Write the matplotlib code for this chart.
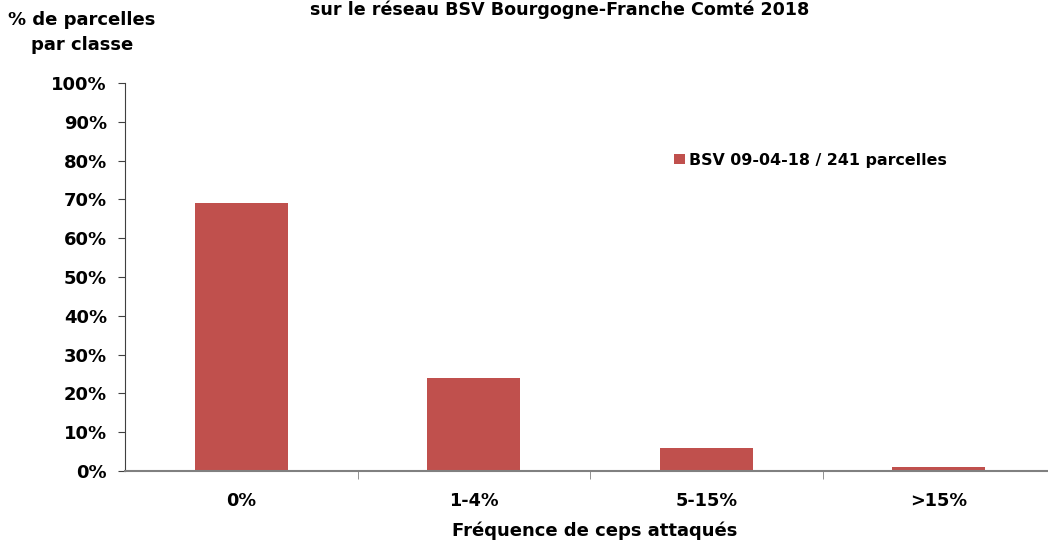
import matplotlib.pyplot as plt
import numpy as np

plt.rcParams['font.family'] = ['DejaVu Sans']
plt.rcParams['font.weight'] = 'bold'

categories = ['0%', '1-4%', '5-15%', '>15%']
values = [69, 24, 6, 1]
serie = 'BSV 09-04-18 / 241 parcelles'
yticks = [0, 10, 20, 30, 40, 50, 60, 70, 80, 90, 100]

fig = plt.figure(figsize=(10.48, 5.42), dpi=100)
ax = fig.add_axes([125/1048, 1-471/542, 930/1048, 388/542])

x = np.arange(len(categories))
ax.bar(x, values, width=0.4, color='#C0504D', label=serie, zorder=2)

ax.set_xlim(-0.5, len(categories) - 0.5)
ax.set_ylim(0, 100)
ax.set_yticks(yticks)
ax.set_yticklabels([f'{v}%' for v in yticks], fontsize=13, fontweight='bold')
ax.set_xticks(x)
ax.set_xticklabels(categories, fontsize=12.7, fontweight='bold')
ax.tick_params(axis='x', length=0, pad=15)
ax.tick_params(axis='y', length=5, color='#404040', pad=8)
# petits traits entre les classes
ax.set_xticks(x[:-1] + 0.5, minor=True)
ax.tick_params(axis='x', which='minor', length=6, color='#808080')

for s in ['top', 'right']:
    ax.spines[s].set_visible(False)
ax.spines['left'].set_color('#404040')
ax.spines['bottom'].set_color('#808080')
ax.spines['bottom'].set_linewidth(1.5)

ax.set_xlabel('Fréquence de ceps attaqués', fontsize=13, fontweight='bold')
ax.xaxis.set_label_coords((595-125)/930, -(531-471)/388)
ax.xaxis.label.set_va('center')
fig.text(82/1048, 1-32.5/542, '% de parcelles\npar classe', ha='center', va='center',
         fontsize=13, fontweight='bold', linespacing=1.55)
fig.text(560/1048, 1-15/542, 'sur le réseau BSV Bourgogne-Franche Comté 2018',
         ha='center', va='baseline', fontsize=12.6, fontweight='bold')

ax.legend(loc='center left', bbox_to_anchor=(535/930, (471-160)/388), frameon=False,
          handlelength=0.65, handleheight=0.65, handletextpad=0.3,
          prop={'weight': 'bold', 'size': 11.4})

fig.savefig('out.png', dpi=100)
